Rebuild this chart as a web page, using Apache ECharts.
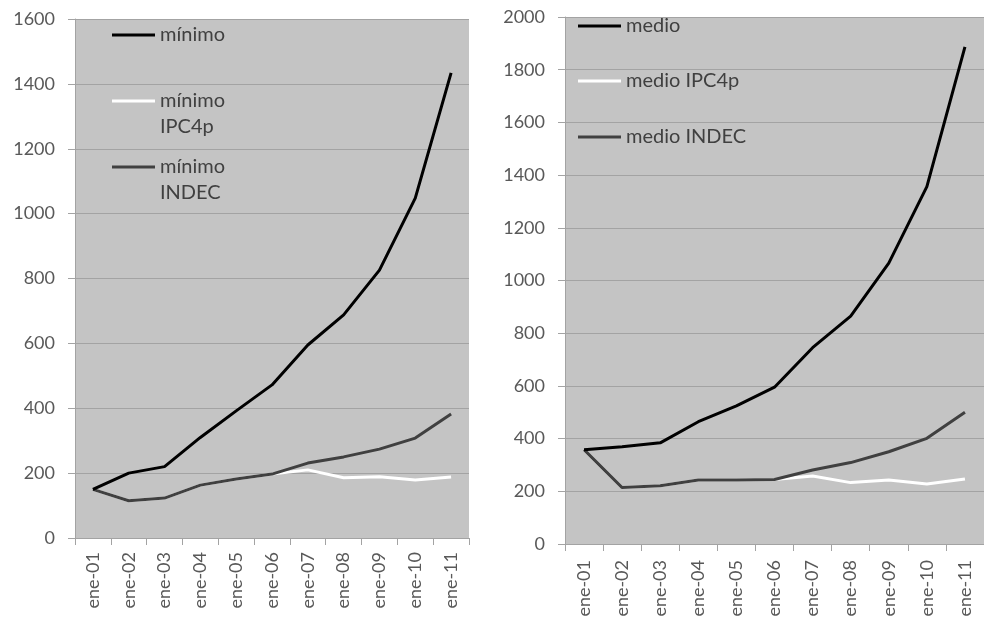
<!DOCTYPE html>
<html>
<head>
<meta charset="utf-8">
<script src="https://cdn.jsdelivr.net/npm/echarts@6/dist/echarts.min.js"></script>
<style>
  html, body { margin: 0; padding: 0; background: #ffffff; }
  #chart { width: 984px; height: 622px; }
</style>
</head>
<body>
<div id="chart"></div>
<script>
// Fechas (enero de cada año)
const categories = ['ene-01','ene-02','ene-03','ene-04','ene-05','ene-06','ene-07','ene-08','ene-09','ene-10','ene-11'];

// Panel izquierdo: mínimo
const minimo       = [150, 200, 220, 310, 392, 472, 595, 688, 826, 1048, 1434];
const minimoIPC4p  = [150, 115, 123, 163, 182, 197, 210, 186, 189, 179, 188];
const minimoINDEC  = [150, 115, 123, 163, 182, 197, 231, 250, 274, 308, 382];

// Panel derecho: medio
const medio        = [358, 369, 384, 464, 524, 595, 745, 865, 1066, 1356, 1887];
const medioIPC4p   = [358, 214, 221, 243, 243, 245, 258, 233, 243, 228, 247];
const medioINDEC   = [358, 214, 221, 243, 243, 245, 281, 309, 350, 401, 500];

const leftTicks  = { min: 0, max: 1600, interval: 200 };
const rightTicks = { min: 0, max: 2000, interval: 200 };

const FONT = 'Lato';
const TEXT = '#595959';
const GRIDLINE = '#a3a3a3';

function xAxisFor(gridIndex, margin) {
  return {
    type: 'category', gridIndex, data: categories, boundaryGap: true,
    axisLine: { show: true, lineStyle: { color: GRIDLINE, width: 1 } },
    axisTick: { show: true, length: 7, lineStyle: { color: GRIDLINE } },
    axisLabel: { rotate: 90, margin, color: TEXT, fontFamily: FONT, fontSize: 18 }
  };
}
function yAxisFor(gridIndex, ticks) {
  return {
    type: 'value', gridIndex, min: ticks.min, max: ticks.max, interval: ticks.interval,
    axisLine: { show: true, lineStyle: { color: GRIDLINE, width: 1 } },
    axisTick: { show: true, length: 7, lineStyle: { color: GRIDLINE } },
    splitLine: { show: true, lineStyle: { color: GRIDLINE, width: 1 } },
    axisLabel: { margin: 20, color: TEXT, fontFamily: FONT, fontSize: 18, formatter: v => String(v) }
  };
}
function lineSeries(name, data, color, idx) {
  return {
    name, type: 'line', data, xAxisIndex: idx, yAxisIndex: idx,
    symbol: 'none', smooth: false, color,
    lineStyle: { color, width: 3 }
  };
}
function legendItem(name, left, top, label) {
  return {
    data: [name], left, top, padding: 0, orient: 'vertical',
    icon: 'rect', itemWidth: 43, itemHeight: 3,
    selectedMode: false,
    formatter: () => label,
    textStyle: { color: '#404040', fontFamily: FONT, fontSize: 20, lineHeight: 26 }
  };
}

const chart = echarts.init(document.getElementById('chart'), null, { renderer: 'canvas' });
chart.setOption({
  backgroundColor: '#ffffff',
  animation: false,
  grid: [
    { left: 75, top: 19, width: 394, height: 519, show: true, backgroundColor: '#c4c4c4', borderWidth: 0 },
    { left: 565, top: 17, right: 0, height: 527, show: true, backgroundColor: '#c4c4c4', borderWidth: 0 }
  ],
  xAxis: [xAxisFor(0, 14), xAxisFor(1, 16)],
  yAxis: [yAxisFor(0, leftTicks), yAxisFor(1, rightTicks)],
  legend: [
    legendItem('mínimo', 112, 22, 'mínimo'),
    legendItem('mínimo IPC4p', 112, 62, '\nmínimo\nIPC4p'),
    legendItem('mínimo INDEC', 112, 128, '\nmínimo\nINDEC'),
    legendItem('medio', 578, 13, 'medio'),
    legendItem('medio IPC4p', 578, 68, 'medio IPC4p'),
    legendItem('medio INDEC', 578, 124, 'medio INDEC')
  ],
  series: [
    lineSeries('mínimo IPC4p', minimoIPC4p, '#ffffff', 0),
    lineSeries('mínimo INDEC', minimoINDEC, '#404040', 0),
    lineSeries('mínimo', minimo, '#000000', 0),
    lineSeries('medio IPC4p', medioIPC4p, '#ffffff', 1),
    lineSeries('medio INDEC', medioINDEC, '#404040', 1),
    lineSeries('medio', medio, '#000000', 1)
  ]
});
</script>
</body>
</html>
